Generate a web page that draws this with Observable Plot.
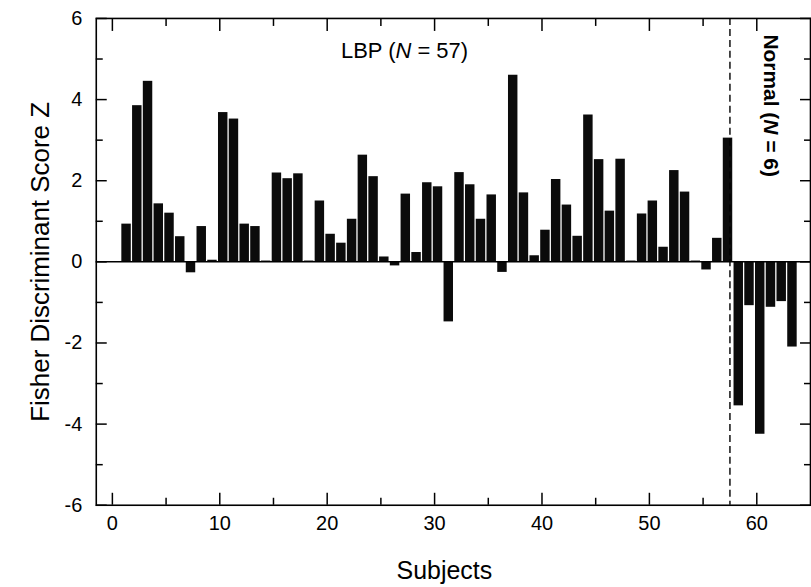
<!DOCTYPE html>
<html>
<head>
<meta charset="utf-8">
<script src="https://cdn.jsdelivr.net/npm/d3@7"></script>
<script src="https://cdn.jsdelivr.net/npm/@observablehq/plot@0.6"></script>
<style>
html, body { margin: 0; padding: 0; background: #fff; overflow: hidden; }
#chart { width: 811px; height: 587px; overflow: hidden; }
</style>
</head>
<body>
<div id="chart"></div>
<script>
// ---- data ----
const subjects = [1,2,3,4,5,6,7,8,9,10,11,12,13,14,15,16,17,18,19,20,21,22,23,24,25,26,27,28,29,30,
  31,32,33,34,35,36,37,38,39,40,41,42,43,44,45,46,47,48,49,50,51,52,53,54,55,56,57,58,59,60,61,62,63];
const scores = [0.93,3.85,4.45,1.43,1.2,0.62,-0.27,0.87,0.04,3.68,3.52,0.93,0.87,0.02,2.19,2.05,2.17,0.02,1.5,0.68,
  0.46,1.05,2.63,2.1,0.12,-0.1,1.67,0.23,1.95,1.85,-1.48,2.2,1.9,1.05,1.65,-0.26,4.6,1.7,0.15,0.78,
  2.03,1.4,0.63,3.62,2.52,1.25,2.53,0.02,1.18,1.5,0.36,2.25,1.72,0.02,-0.2,0.58,3.05,
  -3.55,-1.08,-4.25,-1.12,-0.98,-2.1];
const groupBoundary = [57.5];
const xTickLabels = [0, 10, 20, 30, 40, 50, 60];
const xMinorTicks = [5, 15, 25, 35, 45, 55];
const yTickLabels = [-6, -4, -2, 0, 2, 4, 6];
const yMinorTicks = [-5, -3, -1, 1, 3, 5];
const annotationText = ["LBP (N = 57)", "Normal (N = 6)"];
const annotationX = [27.2, 61.3];
const annotationY = [5.2, 3.85];
const annotationRotate = [0, 90];
const annotationWeight = ["normal", "bold"];
const annotationSize = [22, 21];
const xTitle = "Subjects";
const yTitle = "Fisher Discriminant Score Z";

const data = subjects.map((s, i) => ({subject: s, score: scores[i]}));
const annotations = annotationText.map((t, i) => ({text: t, x: annotationX[i], y: annotationY[i], rotate: annotationRotate[i]}));

const font = "'Liberation Sans', Arial, sans-serif";
const ink = "#000";
const plain = d => String(d);

const chart = Plot.plot({
  width: 813,
  height: 587,
  marginLeft: 96,
  marginRight: 1,
  marginTop: 18,
  marginBottom: 81,
  x: {domain: [-1.5, 65]},
  y: {domain: [-6, 6]},
  style: {fontFamily: font, background: "#fff", color: ink, overflow: "visible"},
  marks: [
    Plot.rect(data, {x1: d => d.subject - 0.12, x2: d => d.subject + 0.76, y1: 0, y2: "score", fill: "#0b0b0b"}),
    Plot.ruleY([0], {stroke: ink, strokeWidth: 1.5}),
    Plot.ruleX(groupBoundary, {stroke: ink, strokeWidth: 1.4, strokeDasharray: "7,4"}),
    Plot.frame({stroke: ink, strokeWidth: 1.6}),
    // inward ticks
    Plot.axisX(xTickLabels, {anchor: "bottom", tickSize: 12, dy: -12, fill: "none", strokeWidth: 1.5, label: null}),
    Plot.axisX(xMinorTicks, {anchor: "bottom", tickSize: 7, dy: -7, fill: "none", strokeWidth: 1.5, label: null}),
    Plot.axisX(xTickLabels, {anchor: "top", tickSize: 12, dy: 12, fill: "none", strokeWidth: 1.5, label: null}),
    Plot.axisX(xMinorTicks, {anchor: "top", tickSize: 7, dy: 7, fill: "none", strokeWidth: 1.5, label: null}),
    Plot.axisY(yTickLabels, {anchor: "left", tickSize: 11, dx: 11, fill: "none", strokeWidth: 1.5, label: null}),
    Plot.axisY(yMinorTicks, {anchor: "left", tickSize: 7, dx: 7, fill: "none", strokeWidth: 1.5, label: null}),
    Plot.axisY(yTickLabels, {anchor: "right", tickSize: 11, dx: -11, fill: "none", strokeWidth: 1.5, label: null}),
    Plot.axisY(yMinorTicks, {anchor: "right", tickSize: 7, dx: -7, fill: "none", strokeWidth: 1.5, label: null}),
    // tick labels
    Plot.axisX(xTickLabels, {anchor: "bottom", tickSize: 0, tickPadding: 11, fontSize: 20, tickFormat: plain, label: null}),
    Plot.axisY(yTickLabels, {anchor: "left", tickSize: 0, tickPadding: 14, fontSize: 20, tickFormat: plain, label: null}),
    // titles
    Plot.text([yTitle], {frameAnchor: "left", textAnchor: "middle", dx: -56, rotate: -90, fontSize: 26, fill: ink}),
    Plot.text([xTitle], {frameAnchor: "bottom", textAnchor: "middle", dx: -9, dy: 74, fontSize: 25, fill: ink}),
    // annotations
    Plot.text(annotations, {x: "x", y: "y", text: "text", rotate: "rotate", fill: ink}),
  ]
});

// italicise the N in the group annotations, and set their weight/size
d3.select(chart).selectAll("text").each(function() {
  const t = this.textContent;
  const k = annotationText.indexOf(t);
  if (k >= 0 && this.children.length === 0) {
    const i = t.indexOf("(N") + 1;
    const sel = d3.select(this);
    sel.attr("font-size", annotationSize[k]).attr("font-weight", annotationWeight[k]);
    sel.text(null);
    sel.append("tspan").text(t.slice(0, i));
    sel.append("tspan").attr("font-style", "italic").text("N");
    sel.append("tspan").text(t.slice(i + 1));
  }
});

document.getElementById("chart").append(chart);
</script>
</body>
</html>
